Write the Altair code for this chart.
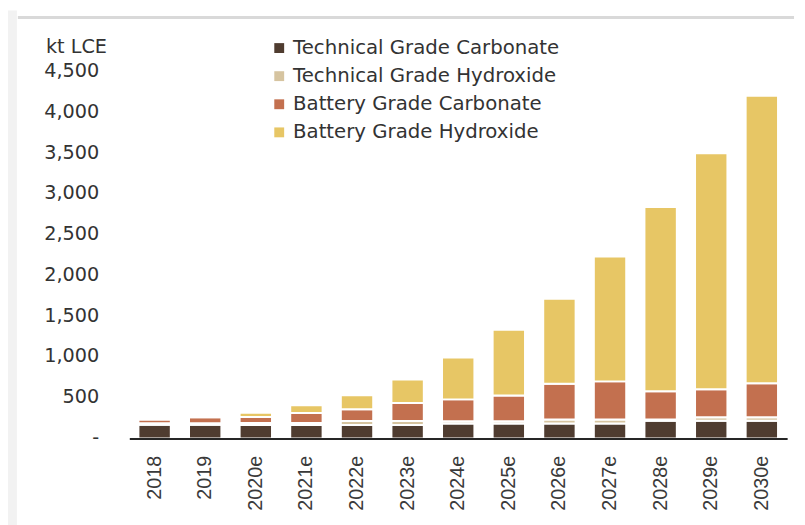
import altair as alt
import pandas as pd

years = ["2018", "2019", "2020e", "2021e", "2022e", "2023e", "2024e",
         "2025e", "2026e", "2027e", "2028e", "2029e", "2030e"]
series = ["Technical Grade Carbonate", "Technical Grade Hydroxide",
          "Battery Grade Carbonate", "Battery Grade Hydroxide"]
colors = ["#4f3c30", "#d6c4a0", "#c3704f", "#e7c665"]

tech_carbonate = [170, 170, 168, 168, 168, 168, 185, 185, 185, 185, 218, 218, 218]
tech_hydroxide = [17, 17, 24, 24, 48, 48, 29, 29, 48, 48, 16, 45, 45]
batt_carbonate = [48, 76, 73, 121, 145, 222, 267, 315, 440, 469, 348, 343, 416]
batt_hydroxide = [0, 0, 52, 97, 170, 287, 513, 807, 1042, 1531, 2258, 2893, 3527]

y_ticks = [0, 500, 1000, 1500, 2000, 2500, 3000, 3500, 4000, 4500]

rows = []
for i, s in enumerate(series):
    vals = [tech_carbonate, tech_hydroxide, batt_carbonate, batt_hydroxide][i]
    for y, v in zip(years, vals):
        rows.append({"year": y, "series": s, "value": v, "idx": i})
df = pd.DataFrame(rows)

text_font = "DejaVu Sans"

bars = alt.Chart(df).mark_bar(stroke="white", strokeWidth=2).encode(
    x=alt.X("year:N", sort=years,
            scale=alt.Scale(paddingInner=0.36, paddingOuter=0.18),
            axis=alt.Axis(title=None, labelAngle=-90, labelFont="Liberation Sans",
                          labelFontSize=20, labelColor="#3a3a3a", labelPadding=17,
                          ticks=False, domainColor="#262626", domainWidth=2,
                          grid=False, zindex=1)),
    y=alt.Y("value:Q", stack="zero",
            scale=alt.Scale(domain=[0, 4500], nice=False),
            axis=alt.Axis(title="kt LCE", titleAngle=0, titleAlign="left",
                          titleBaseline="middle", titleX=-85, titleY=-25,
                          titleFont=text_font, titleFontSize=19.5,
                          titleFontWeight="normal", titleColor="#333333",
                          values=y_ticks, labelFont=text_font, labelFontSize=19.5,
                          labelColor="#333333", labelPadding=31, labelOffset=-1,
                          labelExpr="datum.value == 0 ? '-\u00a0\u00a0\u00a0' : format(datum.value, ',')",
                          domain=False, ticks=False, grid=False)),
    color=alt.Color("series:N", sort=series,
                    scale=alt.Scale(domain=series, range=colors),
                    legend=alt.Legend(title=None, orient="none", legendX=142,
                                      legendY=-34, symbolType="square",
                                      symbolSize=100, symbolStrokeWidth=0,
                                      labelFont=text_font, labelFontSize=20,
                                      labelColor="#333333", rowPadding=8.5,
                                      labelOffset=4, labelLimit=0)),
    order=alt.Order("idx:Q", sort="ascending"),
)

deco = pd.DataFrame({"a": [0]})
top_line = alt.Chart(deco).mark_rule(color="#d9d9d9", strokeWidth=3).encode(
    x=alt.value(-113), x2=alt.value(674), y=alt.value(-55))
left_strip = alt.Chart(deco).mark_rect(color="#f2f2f2").encode(
    x=alt.value(-124), x2=alt.value(-114), y=alt.value(-62), y2=alt.value(460))

chart = alt.layer(left_strip, top_line, bars).properties(
    width=667, height=372,
    autosize=alt.AutoSizeParams(type="none"),
    padding={"left": 123, "top": 61, "right": 10, "bottom": 84},
).configure_view(stroke=None)

chart.save("out.html", embed_options={"renderer": "svg", "actions": False})
